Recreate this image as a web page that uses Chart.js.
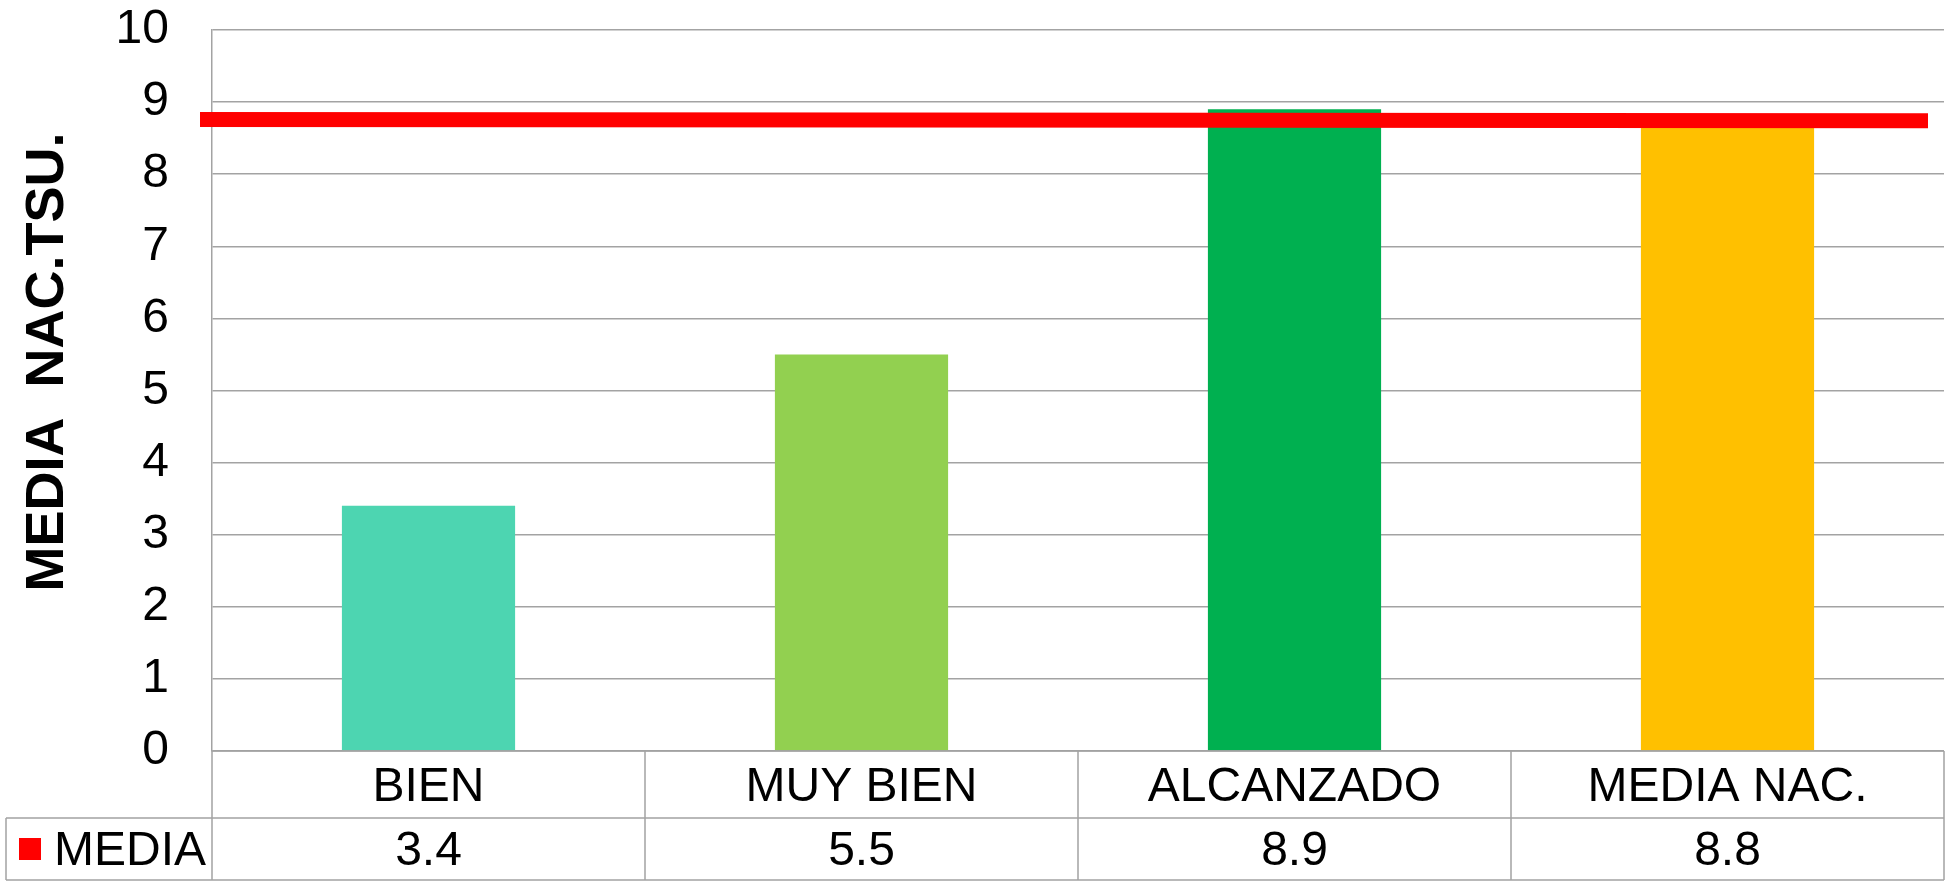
<!DOCTYPE html>
<html>
<head>
<meta charset="utf-8">
<script src="https://cdn.jsdelivr.net/npm/chart.js@4.4.0/dist/chart.umd.min.js"></script>
<style>
  html, body { margin: 0; padding: 0; background: #fff; }
  #wrap { width: 1947px; height: 887px; position: relative; }
</style>
</head>
<body>
<div id="wrap"><canvas id="chart"></canvas></div>
<script>
const categories = ['BIEN', 'MUY BIEN', 'ALCANZADO', 'MEDIA NAC.'];
const mediaValues = [3.4, 5.5, 8.9, 8.8];
const valueLabels = ['3.4', '5.5', '8.9', '8.8'];
const barColors = ['#4dd5b1', '#92d050', '#00b050', '#ffc000'];
const mediaLine = [8.76, 8.74]; // red reference line, start / end value
const seriesName = 'MEDIA';
const yTitle = 'MEDIA  NAC.TSU.';

const FONT = "'Liberation Sans', Arial, sans-serif";
const GRID = '#a3a3a3';

// red line across the plot
const redLine = {
  id: 'redLine',
  afterDatasetsDraw(chart) {
    const { ctx, chartArea, scales: { y } } = chart;
    ctx.save();
    ctx.strokeStyle = '#ff0000';
    ctx.lineWidth = 15;
    ctx.lineCap = 'butt';
    ctx.beginPath();
    ctx.moveTo(chartArea.left - 12, y.getPixelForValue(mediaLine[0]));
    ctx.lineTo(chartArea.right - 16, y.getPixelForValue(mediaLine[1]));
    ctx.stroke();
    ctx.restore();
  }
};

// y title (sits a bit above the axis centre in the original)
const yTitlePlugin = {
  id: 'yTitle',
  afterDraw(chart) {
    const { ctx } = chart;
    ctx.save();
    ctx.translate(48, 362);
    ctx.rotate(-Math.PI / 2);
    ctx.fillStyle = '#000';
    ctx.font = 'bold 54px ' + FONT;
    ctx.textAlign = 'center';
    ctx.textBaseline = 'middle';
    ctx.fillText(yTitle, 0, 0);
    ctx.restore();
  }
};

// data table under the plot
const dataTable = {
  id: 'dataTable',
  afterDraw(chart) {
    const { ctx, chartArea, scales: { x } } = chart;
    const top = chartArea.bottom;
    const mid = top + 67;
    const bot = mid + 62;
    const tableLeft = 6;
    const cw = (chartArea.right - chartArea.left) / categories.length;

    ctx.save();
    ctx.strokeStyle = GRID;
    ctx.lineWidth = 1.5;
    ctx.beginPath();
    ctx.moveTo(chartArea.left, top); ctx.lineTo(chartArea.right, top);
    ctx.moveTo(tableLeft, mid); ctx.lineTo(chartArea.right, mid);
    ctx.moveTo(tableLeft, bot); ctx.lineTo(chartArea.right, bot);
    ctx.moveTo(tableLeft, mid); ctx.lineTo(tableLeft, bot);
    ctx.moveTo(chartArea.left, top); ctx.lineTo(chartArea.left, bot);
    categories.forEach((c, i) => {
      const xr = x.getPixelForValue(i) + cw / 2;
      ctx.moveTo(xr, top); ctx.lineTo(xr, bot);
    });
    ctx.stroke();

    ctx.fillStyle = '#000';
    ctx.font = '48px ' + FONT;
    ctx.textAlign = 'center';
    ctx.textBaseline = 'middle';
    categories.forEach((c, i) => {
      const cx = x.getPixelForValue(i);
      ctx.fillText(c, cx, (top + mid) / 2 + 3);
      ctx.fillText(valueLabels[i], cx, (mid + bot) / 2 + 3);
    });

    // legend key
    ctx.fillStyle = '#ff0000';
    ctx.fillRect(19, (mid + bot) / 2 - 11, 22, 22);
    ctx.fillStyle = '#000';
    ctx.textAlign = 'left';
    ctx.fillText(seriesName, 54, (mid + bot) / 2 + 3);
    ctx.restore();
  }
};

new Chart(document.getElementById('chart'), {
  type: 'bar',
  data: {
    labels: categories,
    datasets: [{
      label: seriesName,
      data: mediaValues,
      backgroundColor: barColors,
      barPercentage: 0.4,
      categoryPercentage: 1
    }]
  },
  options: {
    responsive: true,
    maintainAspectRatio: false,
    animation: false,
    layout: { padding: { top: 30, right: 3, bottom: 136, left: 0 } },
    plugins: { legend: { display: false }, tooltip: { enabled: false } },
    scales: {
      x: { display: false },
      y: {
        min: 0,
        max: 10,
        afterFit(scale) { scale.width = 212; },
        ticks: { stepSize: 1, padding: 0, color: '#000', font: { family: FONT, size: 48 } },
        grid: { color: GRID, lineWidth: 1.5, drawTicks: true, tickLength: 43, tickColor: 'rgba(0,0,0,0)' },
        border: { color: GRID, width: 1.5 }
      }
    }
  },
  plugins: [redLine, yTitlePlugin, dataTable]
});
</script>
</body>
</html>
